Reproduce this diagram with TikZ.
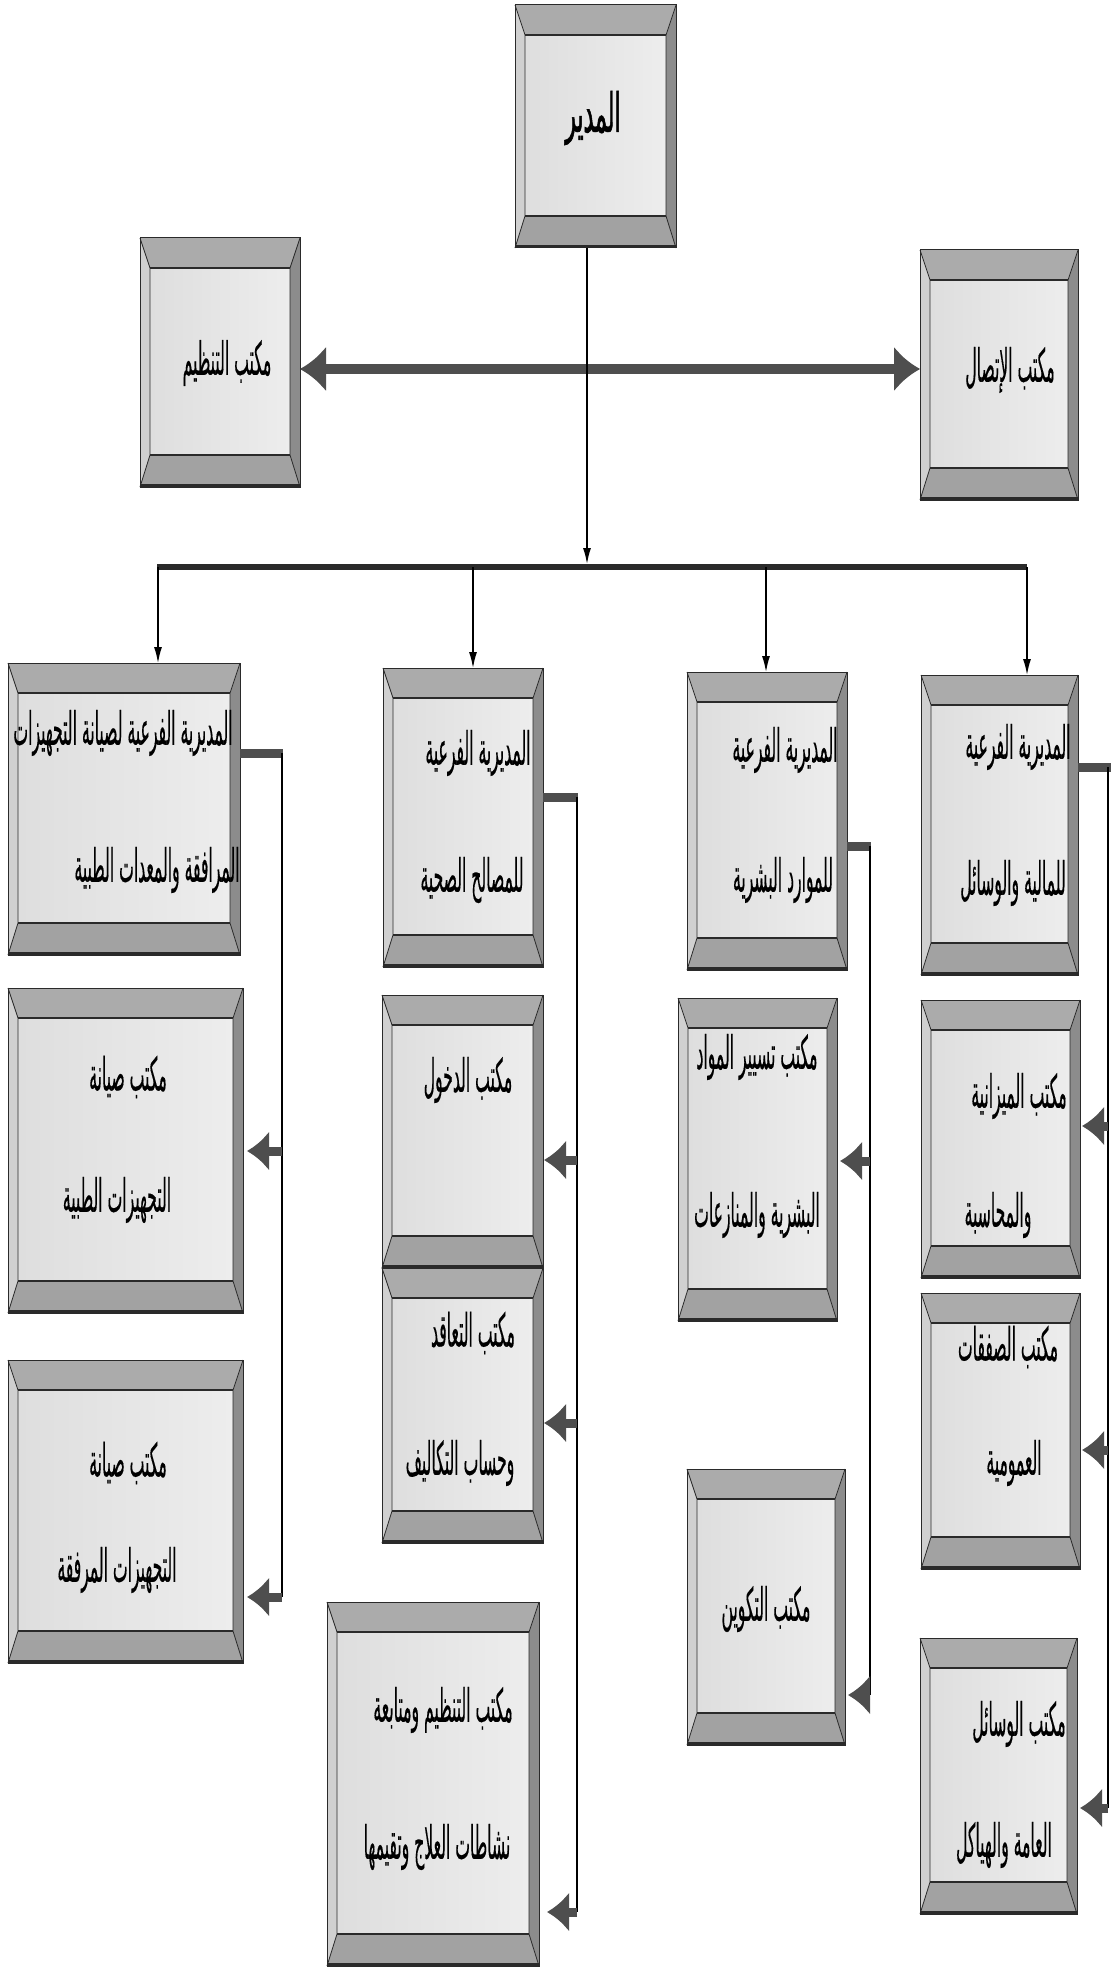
\documentclass[tikz,border=0pt]{standalone}
\usepackage{fontspec}
\usepackage{graphicx}
\usetikzlibrary{arrows.meta}
\TeXXeTstate=1
\newfontfamily\arabicfont[Script=Arabic,FakeStretch=0.46,FakeBold=0.3]{DejaVu Sans}
\newfontfamily\arabicbig[Script=Arabic,FakeStretch=0.55,FakeBold=1.2]{DejaVu Sans}
\newcommand\ar[1]{\scalebox{1}[1.35]{\arabicfont\beginR #1\endR}}
\newcommand\arbig[1]{\scalebox{1}[1.35]{\arabicbig\beginR #1\endR}}
\definecolor{topbev}{HTML}{ABABAB}
\definecolor{botbev}{HTML}{A2A2A2}
\definecolor{leftbev}{HTML}{D0D0D0}
\definecolor{rightbev}{HTML}{8C8C8C}
\definecolor{panelA}{HTML}{DEDEDE}
\definecolor{panelB}{HTML}{EDEDED}
\definecolor{edge}{HTML}{2A2A2A}
\definecolor{shaft}{HTML}{4E4E4E}
\tikzset{
 bx/.style={draw=none,inner sep=0pt,outer sep=0pt,rectangle},
 lbl/.style={inner sep=0pt,font=\fontsize{34}{40}\selectfont,text=black},
 biglbl/.style={inner sep=0pt,font=\fontsize{40}{46}\selectfont,text=black},
 busline/.style={line width=6pt,draw=edge},
 drop/.style={line width=1.4pt,draw=black,-{Latex[length=16pt,width=8pt]}},
 stub/.style={line width=9pt,draw=shaft},
 vline/.style={line width=1.6pt,draw=black},
 bigarrow/.style={line width=9pt,draw=shaft,-{Latex[length=22pt,width=40pt]}},
 dbl/.style={line width=10pt,draw=shaft,{Latex[length=26pt,width=46pt]}-{Latex[length=26pt,width=46pt]}},
}
% name, x1, y1, x2, y2  (pixels, y downwards)
\newcommand\bevelbox[5]{%
 \shade[left color=panelA,right color=panelB] ({#2+10},{#3+30}) rectangle ({#4-10},{#5-32});
 \fill[leftbev] (#2,#3) -- ({#2+10},{#3+30}) -- ({#2+10},{#5-32}) -- (#2,#5) -- cycle;
 \fill[rightbev] (#4,#3) -- ({#4-10},{#3+30}) -- ({#4-10},{#5-32}) -- (#4,#5) -- cycle;
 \fill[topbev] (#2,#3) -- (#4,#3) -- ({#4-10},{#3+30}) -- ({#2+10},{#3+30}) -- cycle;
 \fill[botbev] (#2,#5) -- (#4,#5) -- ({#4-10},{#5-32}) -- ({#2+10},{#5-32}) -- cycle;
 \draw[edge,line width=0.8pt] (#2,#3) -- ({#2+10},{#3+30}) (#4,#3) -- ({#4-10},{#3+30})
   (#2,#5) -- ({#2+10},{#5-32}) (#4,#5) -- ({#4-10},{#5-32})
   ({#2+10},{#3+30}) -- ({#2+10},{#5-32}) ({#4-10},{#3+30}) -- ({#4-10},{#5-32});
 \draw[edge,line width=1.6pt] ({#2+10},{#3+30}) -- ({#4-10},{#3+30}) ({#2+10},{#5-32}) -- ({#4-10},{#5-32});
 \draw[edge,line width=1pt] (#2,#3) rectangle (#4,#5);
 \draw[edge,line width=3.5pt] (#2,{#5-1.5}) -- (#4,{#5-1.5});
 \node[bx,minimum width={(#4-#2)*1pt},minimum height={(#5-#3)*1pt}] (#1) at ({(#2+#4)/2},{(#3+#5)/2}) {};
}
\begin{document}
\begin{tikzpicture}[x=1pt,y=-1pt]
\useasboundingbox (0,0) rectangle (1111,1969);
\fill[white] (0,0) rectangle (1111,1969);

% boxes
\bevelbox{dir}{515}{5}{676}{248}
\bevelbox{tanz}{140}{238}{300}{487}
\bevelbox{itt}{920}{250}{1078}{500}
\bevelbox{l1}{8}{663}{240}{955}
\bevelbox{l2}{8}{988}{243}{1313}
\bevelbox{l3}{8}{1360}{243}{1663}
\bevelbox{c2a}{383}{668}{543}{967}
\bevelbox{c2b}{382}{995}{543}{1268}
\bevelbox{c2c}{382}{1268}{543}{1543}
\bevelbox{c2d}{327}{1602}{539}{1966}
\bevelbox{c3a}{687}{672}{847}{970}
\bevelbox{c3b}{678}{998}{837}{1321}
\bevelbox{c3c}{687}{1469}{845}{1745}
\bevelbox{c4a}{921}{675}{1078}{975}
\bevelbox{c4b}{921}{1000}{1080}{1278}
\bevelbox{c4c}{921}{1293}{1080}{1569}
\bevelbox{c4d}{920}{1638}{1077}{1914}

% labels
\node[biglbl] (tdir) at (593,118) {\arbig{المدير}};
\node[lbl] (ttanz) at (227,363) {\ar{مكتب التنظيم}};
\node[lbl] (titt) at (1010,370) {\ar{مكتب الإتصال}};
\node[lbl] (tl1a) at (123,733) {\ar{المديرية الفرعية لصيانة التجهيزات}};
\node[lbl] (tl1b) at (157,870) {\ar{المرافقة والمعدات الطبية}};
\node[lbl] (tl2a) at (128,1077) {\ar{مكتب صيانة}};
\node[lbl] (tl2b) at (117,1200) {\ar{التجهيزات الطبية}};
\node[lbl] (tl3a) at (128,1463) {\ar{مكتب صيانة}};
\node[lbl] (tl3b) at (117,1570) {\ar{التجهيزات المرفقة}};
\node[lbl] (tc2aa) at (478,753) {\ar{المديرية الفرعية}};
\node[lbl] (tc2ab) at (472,880) {\ar{للمصالح الصحية}};
\node[lbl] (tc2b) at (468,1080) {\ar{مكتب الدخول}};
\node[lbl] (tc2ca) at (473,1333) {\ar{مكتب التعاقد}};
\node[lbl] (tc2cb) at (460,1463) {\ar{وحساب التكاليف}};
\node[lbl] (tc2da) at (443,1710) {\ar{مكتب التنظيم ومتابعة}};
\node[lbl] (tc2db) at (437,1847) {\ar{نشاطات العلاج وتقيمها}};
\node[lbl] (tc3aa) at (785,750) {\ar{المديرية الفرعية}};
\node[lbl] (tc3ab) at (783,880) {\ar{للموارد البشرية}};
\node[lbl] (tc3ba) at (757,1057) {\ar{مكتب تسيير المواد}};
\node[lbl] (tc3bb) at (757,1215) {\ar{البشرية والمنازعات}};
\node[lbl] (tc3c) at (766,1609) {\ar{مكتب التكوين}};
\node[lbl] (tc4aa) at (1018,747) {\ar{المديرية الفرعية}};
\node[lbl] (tc4ab) at (1013,883) {\ar{للمالية والوسائل}};
\node[lbl] (tc4ba) at (1019,1096) {\ar{مكتب الميزانية}};
\node[lbl] (tc4bb) at (998,1215) {\ar{والمحاسبة}};
\node[lbl] (tc4ca) at (1008,1347) {\ar{مكتب الصفقات}};
\node[lbl] (tc4cb) at (1014,1463) {\ar{العمومية}};
\node[lbl] (tc4da) at (1019,1724) {\ar{مكتب الوسائل}};
\node[lbl] (tc4db) at (1004,1845) {\ar{العامة والهياكل}};

% top connectors
\coordinate (da) at (0,369);
\coordinate (dtop) at (587,248);
\coordinate (busL) at (157,567);
\coordinate (busR) at (1027,567);
\draw[dbl] (tanz.east |- da) -- (itt.west |- da);
\draw[drop,shorten >=3pt] (dtop) -- (dtop |- busL);
\draw[busline] (busL) -- (busR);
\coordinate (d1) at (158,567);
\coordinate (d2) at (473,567);
\coordinate (d3) at (766,567);
\coordinate (d4) at (1027,567);
\draw[drop] (d1) -- (d1 |- l1.north);
\draw[drop] (d2) -- (d2 |- c2a.north);
\draw[drop] (d3) -- (d3 |- c3a.north);
\draw[drop] (d4) -- (d4 |- c4a.north);

% column 1
\coordinate (v1) at (282,753);
\coordinate (a12) at (282,1151);
\coordinate (a13) at (282,1597);
\draw[stub] (l1.east |- v1) -- ([xshift=1pt]v1);
\draw[vline] (v1) -- (a13);
\draw[bigarrow] (a12) -- ([xshift=4pt]a12 -| l2.east);
\draw[bigarrow] (a13) -- ([xshift=4pt]a13 -| l3.east);

% column 2
\coordinate (v2) at (577,797);
\coordinate (a22) at (577,1160);
\coordinate (a23) at (577,1423);
\coordinate (a24) at (577,1912);
\draw[stub] (c2a.east |- v2) -- ([xshift=1pt]v2);
\draw[vline] (v2) -- (a24);
\draw[bigarrow] (a22) -- ([xshift=1pt]a22 -| c2b.east);
\draw[bigarrow] (a23) -- ([xshift=1pt]a23 -| c2c.east);
\draw[bigarrow] (a24) -- ([xshift=8pt]a24 -| c2d.east);

% column 3
\coordinate (v3) at (870,846);
\coordinate (a32) at (870,1161);
\coordinate (a33) at (870,1695);
\draw[stub] (c3a.east |- v3) -- ([xshift=1pt]v3);
\draw[vline] (v3) -- (a33);
\draw[bigarrow] (a32) -- ([xshift=3pt]a32 -| c3b.east);
\draw[bigarrow] (a33) -- ([xshift=3pt]a33 -| c3c.east);

% column 4
\coordinate (v4) at (1108,767);
\coordinate (a42) at (1108,1126);
\coordinate (a43) at (1108,1450);
\coordinate (a44) at (1108,1808);
\draw[stub] (c4a.east |- v4) -- (1111,767);
\draw[vline] (v4) -- (a44);
\draw[bigarrow] (a42) -- ([xshift=2pt]a42 -| c4b.east);
\draw[bigarrow] (a43) -- ([xshift=2pt]a43 -| c4c.east);
\draw[bigarrow] (a44) -- ([xshift=3pt]a44 -| c4d.east);
\end{tikzpicture}
\end{document}
